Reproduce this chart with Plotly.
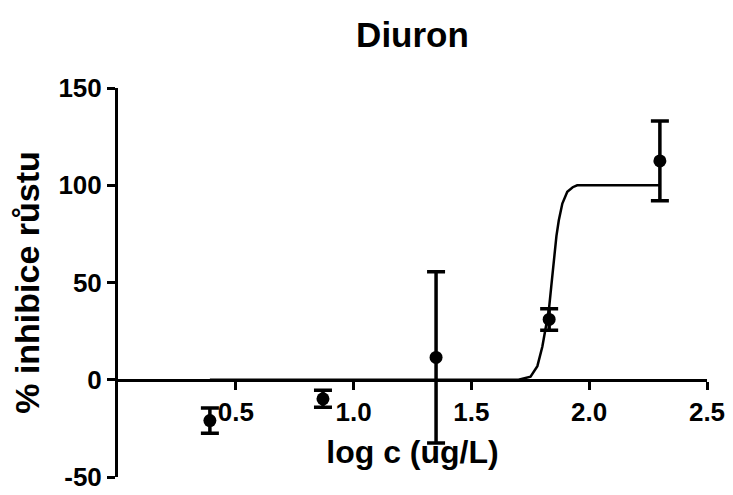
import plotly.graph_objects as go

# Measured points (mean ± SD)
log_c = [0.39, 0.87, 1.35, 1.83, 2.30]
inhibition = [-21.0, -9.8, 11.5, 31.0, 112.5]
err = [6.5, 4.4, 44.0, 5.5, 20.5]

# Fitted curve
curve_x = [0.39, 1.70, 1.751, 1.780, 1.801, 1.815, 1.829, 1.839, 1.850, 1.861,
           1.871, 1.886, 1.907, 1.930, 1.949, 1.977, 2.30]
curve_y = [0.0, 0.0, 1.6, 7.0, 17.0, 26.0, 36.0, 48.0, 62.0, 74.0,
           82.0, 90.6, 96.6, 99.0, 100.0, 100.0, 100.0]

x_ticks = [0.5, 1.0, 1.5, 2.0, 2.5]
x_tick_labels = ["0.5", "1.0", "1.5", "2.0", "2.5"]
y_ticks = [-50, 0, 50, 100, 150]
y_tick_labels = ["-50", "0", "50", "100", "150"]

FONT = "Liberation Sans, Arial, sans-serif"

fig = go.Figure()
fig.add_trace(go.Scatter(
    x=curve_x, y=curve_y, mode="lines",
    line=dict(color="black", width=2.5), hoverinfo="skip", showlegend=False))
fig.add_trace(go.Scatter(
    x=log_c, y=inhibition, mode="markers",
    marker=dict(color="black", size=13, symbol="circle"),
    error_y=dict(type="data", array=err, visible=True, color="black",
                 thickness=3.5, width=9),
    showlegend=False))

fig.update_layout(
    width=733, height=495,
    margin=dict(l=110, r=34, t=80, b=26),
    plot_bgcolor="white", paper_bgcolor="white",
    font=dict(family=FONT, color="black", size=26, weight="bold"),
    title=dict(text="Diuron", xref="paper", x=0.5, xanchor="center",
               y=0.945, yanchor="middle",
               font=dict(family=FONT, size=35, color="black", weight="bold")),
    xaxis=dict(
        range=[0, 2.5], tickvals=x_ticks, ticktext=x_tick_labels,
        anchor="free", position=0.25, automargin=False,
        showline=True, linecolor="black", linewidth=3,
        ticks="outside", ticklen=8, tickwidth=3, tickcolor="black",
        showgrid=False, zeroline=False,
        tickfont=dict(family=FONT, size=26, color="black", weight="bold"),
        title=dict(text="log c (ug/L)", standoff=14,
                   font=dict(family=FONT, size=32, color="black", weight="bold")),
    ),
    yaxis=dict(
        range=[-50, 150], tickvals=y_ticks, ticktext=y_tick_labels,
        automargin=False,
        showline=True, linecolor="black", linewidth=3,
        ticks="outside", ticklen=8, tickwidth=3, tickcolor="black",
        showgrid=False, zeroline=False,
        tickfont=dict(family=FONT, size=26, color="black", weight="bold"),
        title=dict(text="% inhibice růstu", standoff=12,
                   font=dict(family=FONT, size=34, color="black", weight="bold")),
    ),
)

fig.write_html("out.html")
